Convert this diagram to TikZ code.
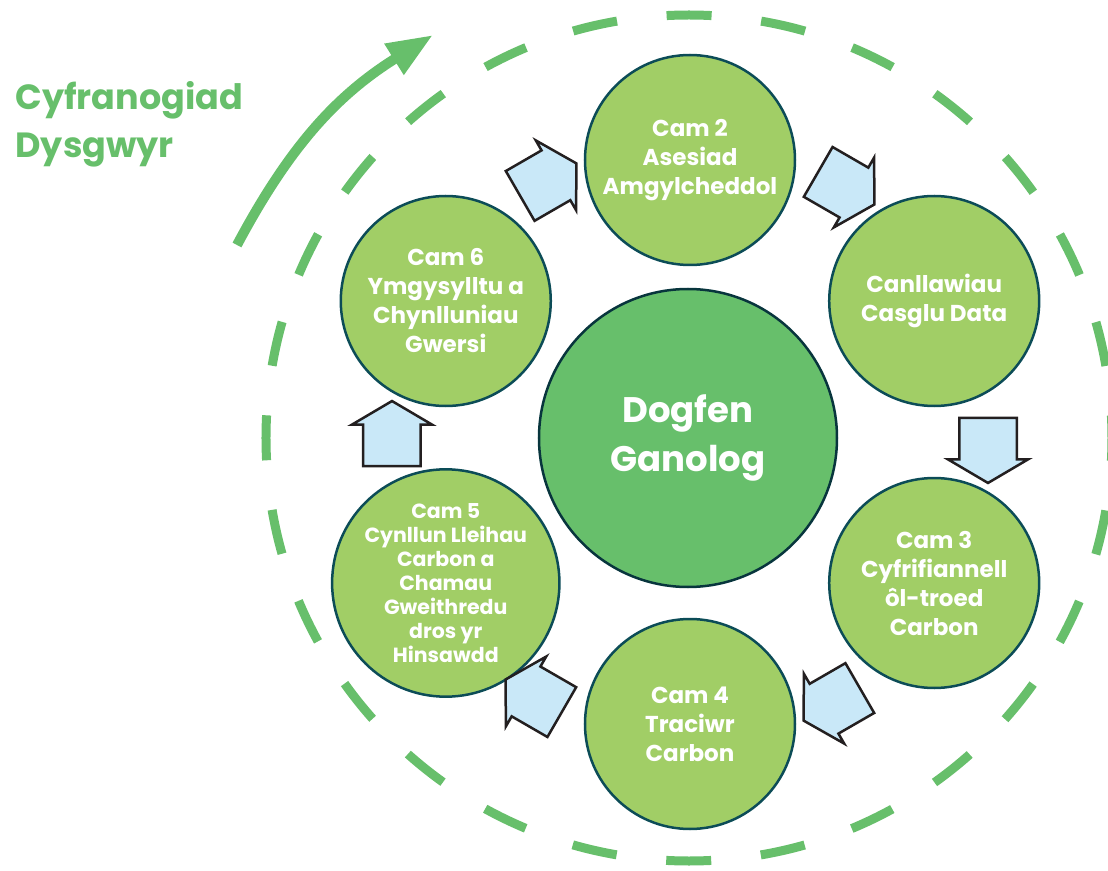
\documentclass[tikz,border=0pt]{standalone}
\usepackage{fontspec}
\setmainfont{Poppins}
\usetikzlibrary{shapes.arrows,arrows.meta}
\definecolor{leafgreen}{HTML}{A1CE66}
\definecolor{hubgreen}{HTML}{67BF6B}
\definecolor{rimteal}{HTML}{0C4C57}
\definecolor{flowblue}{HTML}{C9E8F8}
\definecolor{flowedge}{HTML}{231F20}
\begin{document}
\begin{tikzpicture}[x=1pt,y=1pt,
        stage/.style={circle,draw=rimteal,line width=2.5pt,fill=leafgreen,
            minimum size=210pt,inner sep=0pt,text=white,align=center,
            font=\fontsize{23}{29}\selectfont\bfseries},
        hub/.style={circle,draw=rimteal!70!black,line width=2.5pt,fill=hubgreen,
            minimum size=298pt,inner sep=0pt,text=white,align=center,
            font=\fontsize{35.5}{49}\selectfont\bfseries},
        flow/.style={single arrow,draw=flowedge,line width=2.5pt,fill=flowblue,
            minimum height=65pt,minimum width=0pt,single arrow head extend=11.5pt,
            single arrow tip angle=119,inner xsep=0pt,inner ysep=27.5pt},
        ring/.style={draw=hubgreen,line width=9pt,dash pattern=on 45pt off 49.92pt,dash phase=22.5pt},
        trail/.style={draw=hubgreen,line width=10pt,-{Triangle[length=46pt,width=34pt]}}]
    \useasboundingbox (-690,-428) rectangle (418,442);

    \draw[ring] (-1,4) circle[radius=423];

    % centre and the six stages
    \node[hub] (core) at (-2,4) {Dogfen\\Ganolog};
    \node[stage] (cam2) at (90:282) {Cam 2\\Asesiad\\Amgylcheddol};
    \node[stage] (guide) at (30:282) {Canllawiau\\Casglu Data};
    \node[stage] (cam3) at (-30:282) {Cam 3\\Cyfrifiannell\\ôl-troed\\Carbon};
    \node[stage] (cam4) at (-90:282) {Cam 4\\Traciwr\\Carbon};
    \node[stage,font=\fontsize{20.5}{24}\selectfont\bfseries] (cam5) at (-150:282)
        {Cam 5\\Cynllun Lleihau\\Carbon a\\Chamau\\Gweithredu\\dros yr\\Hinsawdd};
    \node[stage] (cam6) at (150:282) {Cam 6\\Ymgysylltu a\\Chynlluniau\\Gwersi};

    % block arrows between stages
    \foreach \a/\nm in {60/f2, 0/f3, -60/f4, -120/f5, 180/f6, 120/f1}
        \node[flow,rotate=\a-90] (\nm) at (\a:298) {};

    % learner involvement
    \coordinate (loopstart) at (-453,197);
    \coordinate (looptip) at (-257,407);
    \draw[trail] (loopstart) to[bend left=15] (looptip);
    \node[anchor=north west,align=left,text=hubgreen,
        font=\fontsize{35}{48}\selectfont\bfseries] (title) at (-678,364)
        {Cyfranogiad\\Dysgwyr};
\end{tikzpicture}
\end{document}
